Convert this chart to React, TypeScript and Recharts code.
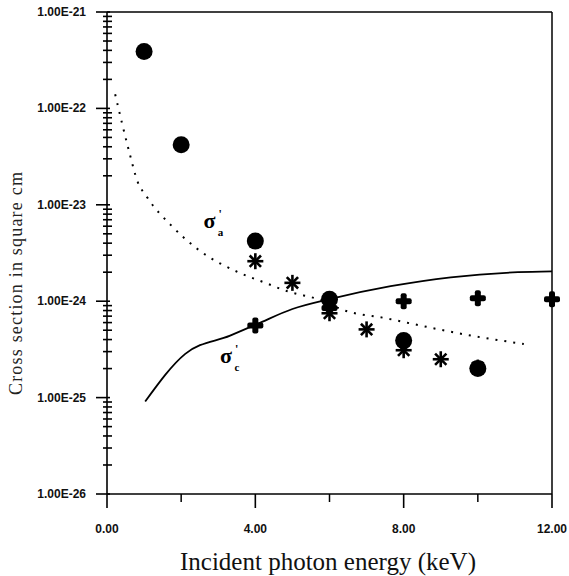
import { ComposedChart, XAxis, YAxis, Line, Scatter, ReferenceLine, ReferenceDot } from "recharts";

// x in keV, y in cm^2
const circleX = [100, 200, 400, 600, 800, 1000];
const circleY = [3.9e-22, 4.2e-23, 4.2e-24, 1.05e-24, 3.9e-25, 2.0e-25];

const starX = [400, 500, 600, 700, 800, 900, 1000];
const starY = [2.6e-24, 1.55e-24, 7.5e-25, 5.1e-25, 3.1e-25, 2.5e-25, 2.05e-25];

const plusX = [400, 600, 800, 1000, 1200];
const plusY = [5.6e-25, 8.5e-25, 1.0e-24, 1.07e-24, 1.05e-24];

// dotted curve (sigma a)
const sigmaAX = [22, 62, 81, 108, 175, 243, 360, 427, 478, 600, 630, 757, 854, 981, 1124];
const sigmaAY = [1.4e-22, 3.3e-23, 1.8e-23, 1.2e-23, 6e-24, 3.5e-24, 1.95e-24, 1.55e-24, 1.3e-24, 9.5e-25, 8.3e-25, 6.6e-25, 5.5e-25, 4.4e-25, 3.6e-25];

// solid curve (sigma c)
const sigmaCX = [103, 211, 332, 405, 500, 600, 765, 927, 1108, 1200];
const sigmaCY = [9.1e-26, 2.84e-25, 4.4e-25, 5.8e-25, 8.3e-25, 1.05e-24, 1.43e-24, 1.77e-24, 2.0e-24, 2.04e-24];

const xTicks = [0, 200, 400, 600, 800, 1000, 1200];
const xMajor = [0, 400, 800, 1200];
const xTickLabels = ["0.00", "4.00", "8.00", "12.00"];

const decades = [-26, -25, -24, -23, -22, -21];
const yTickLabels = ["1.00E-26", "1.00E-25", "1.00E-24", "1.00E-23", "1.00E-22", "1.00E-21"];
const minorSteps = [2, 3, 4, 5, 6, 7, 8, 9];

const yTicks = decades.map((d) => Math.pow(10, d));
const yMinorTicks: number[] = [];
decades.slice(0, -1).forEach((d) => minorSteps.forEach((m) => yMinorTicks.push(m * Math.pow(10, d))));

const toPoints = (xs: number[], ys: number[]) => xs.map((x, i) => ({ x, y: ys[i] }));
const circles = toPoints(circleX, circleY);
const stars = toPoints(starX, starY);
const pluses = toPoints(plusX, plusY);
const sigmaA = toPoints(sigmaAX, sigmaAY);
const sigmaC = toPoints(sigmaCX, sigmaCY);
const minorTickPoints = yMinorTicks.map((y) => ({ x: 0, y }));

const tickFont = "'Liberation Sans Narrow', 'Liberation Sans', Arial, sans-serif";
const serif = "'Liberation Serif', 'Times New Roman', serif";

const YTick = (props: any) => {
  const { x, y, payload } = props;
  const label = yTickLabels[decades.indexOf(Math.round(Math.log10(payload.value)))];
  return (
    <g>
      <line x1={x - 11} x2={x + 3} y1={y} y2={y} stroke="#000" strokeWidth={1.6} />
      <text x={x - 21} y={y} dy={4} textAnchor="end" fontSize={12} fontWeight="bold" fontFamily={tickFont} fill="#111">
        {label}
      </text>
    </g>
  );
};

const MinorTick = (props: any) => (
  <line x1={props.cx - 4} x2={props.cx + 5} y1={props.cy} y2={props.cy} stroke="#000" strokeWidth={1.6} />
);

const XTick = (props: any) => {
  const { x, y, payload } = props;
  const idx = xMajor.indexOf(payload.value);
  if (idx < 0) {
    return <line x1={x} x2={x} y1={y} y2={y + 8} stroke="#000" strokeWidth={1.5} />;
  }
  return (
    <g>
      <line x1={x} x2={x} y1={y} y2={y + 14} stroke="#000" strokeWidth={1.6} />
      <text x={x} y={y + 39} textAnchor="middle" fontSize={12} fontWeight="bold" fontFamily={tickFont} fill="#111">
        {xTickLabels[idx]}
      </text>
    </g>
  );
};

const Dot = (props: any) => <circle cx={props.cx} cy={props.cy} r={8.5} fill="#000" />;

const Star = (props: any) => {
  const { cx, cy } = props;
  const r = 8;
  const angles = [0, 45, 90, 135];
  return (
    <g>
      {angles.map((a) => {
        const dx = r * Math.cos((a * Math.PI) / 180);
        const dy = r * Math.sin((a * Math.PI) / 180);
        return <line key={a} x1={cx - dx} y1={cy - dy} x2={cx + dx} y2={cy + dy} stroke="#000" strokeWidth={2.6} />;
      })}
    </g>
  );
};

const Plus = (props: any) => {
  const { cx, cy } = props;
  return (
    <g fill="#000">
      <rect x={cx - 8} y={cy - 3} width={16} height={6} rx={2} />
      <rect x={cx - 3} y={cy - 8} width={6} height={16} rx={2} />
    </g>
  );
};

const SigmaLabel = (sub: string) => (props: any) => {
  const { cx, cy } = props;
  return (
    <text x={cx} y={cy} fontFamily={serif} fontSize={22} fontWeight="bold" fill="#000">
      σ
      <tspan dx={3} dy={-10} fontSize={12}>'</tspan>
      <tspan dx={-4} dy={18} fontSize={11}>{sub}</tspan>
    </text>
  );
};

const XTitle = () => (
  <text x={328} y={570} textAnchor="middle" fontFamily={serif} fontSize={25} fill="#111">
    Incident photon energy (keV)
  </text>
);

const YTitle = () => (
  <text
    x={18}
    y={283}
    transform="rotate(-90 18 283)"
    textAnchor="middle"
    dominantBaseline="middle"
    fontFamily={serif}
    fontSize={18}
    letterSpacing={1.2}
    fill="#222"
  >
    Cross section in square cm
  </text>
);

export default function App() {
  return (
    <div style={{ position: "absolute", left: 0, top: 0, background: "#fff" }}>
      <ComposedChart width={569} height={576} margin={{ top: 12, right: 17, bottom: 81, left: 106 }}>
        <XAxis
          type="number"
          dataKey="x"
          domain={[0, 1200]}
          ticks={xTicks}
          interval={0}
          height={1}
          tickSize={0}
          tickMargin={0}
          tickLine={false}
          tick={<XTick />}
          axisLine={{ stroke: "#000", strokeWidth: 1.6 }}
          label={<XTitle />}
        />
        <YAxis
          type="number"
          dataKey="y"
          scale="log"
          domain={[1e-26, 1e-21]}
          ticks={yTicks}
          interval={0}
          width={1}
          tickSize={0}
          tickMargin={0}
          tickLine={false}
          tick={<YTick />}
          axisLine={{ stroke: "#000", strokeWidth: 1.6 }}
          label={<YTitle />}
        />
        <ReferenceLine x={1200} stroke="#000" strokeWidth={1.5} />
        <ReferenceLine y={1e-21} stroke="#000" strokeWidth={1.5} />
        <Scatter data={minorTickPoints} dataKey="y" shape={<MinorTick />} isAnimationActive={false} />
        <Line
          data={sigmaA}
          dataKey="y"
          type="monotone"
          stroke="#000"
          strokeWidth={2}
          strokeDasharray="2 7"
          dot={false}
          isAnimationActive={false}
        />
        <Line
          data={sigmaC}
          dataKey="y"
          type="monotone"
          stroke="#000"
          strokeWidth={1.8}
          dot={false}
          isAnimationActive={false}
        />
        <Scatter data={circles} dataKey="y" shape={<Dot />} isAnimationActive={false} />
        <Scatter data={pluses} dataKey="y" shape={<Plus />} isAnimationActive={false} />
        <Scatter data={stars} dataKey="y" shape={<Star />} isAnimationActive={false} />
        <ReferenceDot x={260} y={5.7e-24} r={0} shape={SigmaLabel("a")} />
        <ReferenceDot x={305} y={2.3e-25} r={0} shape={SigmaLabel("c")} />
      </ComposedChart>
    </div>
  );
}
